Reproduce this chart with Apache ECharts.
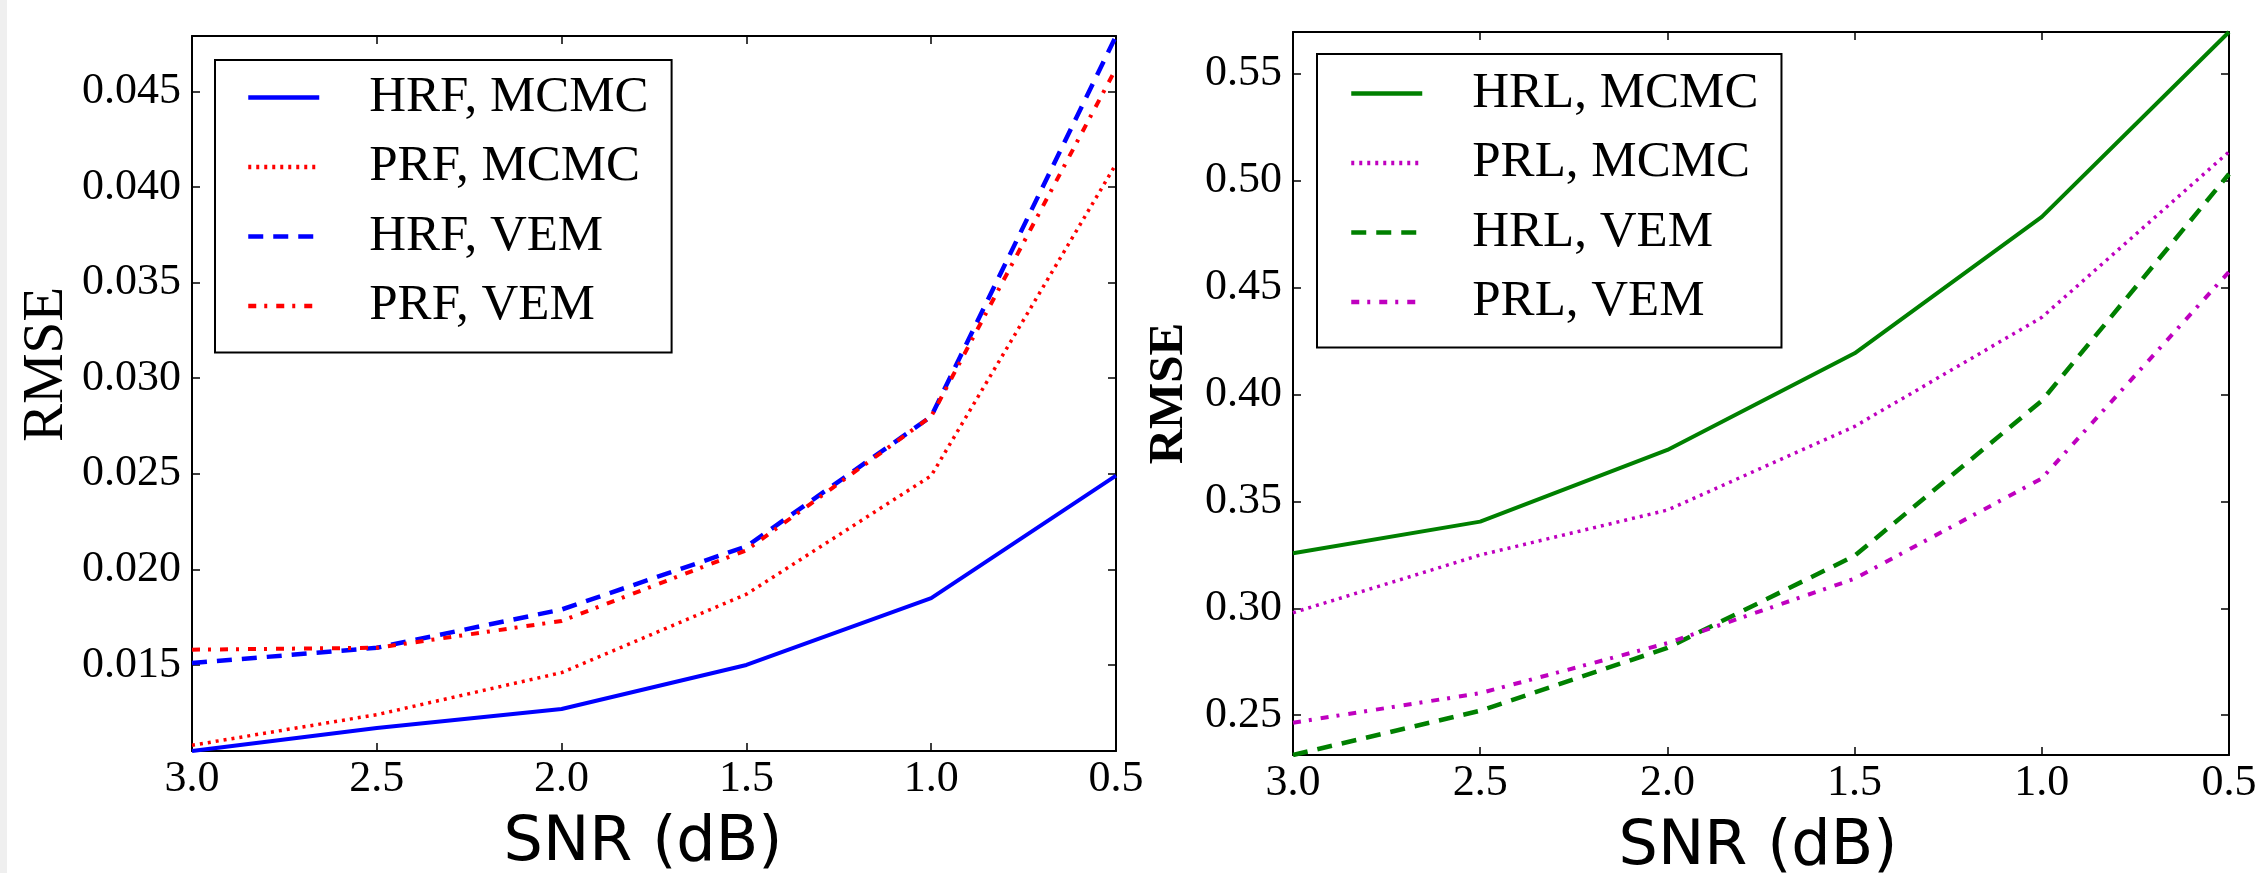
<!DOCTYPE html>
<html><head><meta charset="utf-8">
<script src="https://cdn.jsdelivr.net/npm/echarts@6/dist/echarts.min.js"></script>
<style>html,body{margin:0;padding:0;background:#fff}#c{width:2257px;height:873px}</style>
</head><body><div id="c"></div>
<script>
// ---- data ----
const snr = [3.0, 2.5, 2.0, 1.5, 1.0, 0.5];
const hrfMcmc = [0.0105, 0.0117, 0.0127, 0.0150, 0.0185, 0.0249];
const prfMcmc = [0.0108, 0.0124, 0.0146, 0.0187, 0.0249, 0.0412];
const hrfVem  = [0.0151, 0.0159, 0.0179, 0.0212, 0.0280, 0.0479];
const prfVem  = [0.0158, 0.0159, 0.0173, 0.0210, 0.0280, 0.0462];
const hrlMcmc = [0.3257, 0.3405, 0.3740, 0.4192, 0.4830, 0.5694];
const prlMcmc = [0.2979, 0.3249, 0.3459, 0.3850, 0.4360, 0.5134];
const hrlVem  = [0.2314, 0.2521, 0.2815, 0.3245, 0.3970, 0.5030];
const prlVem  = [0.2465, 0.2603, 0.2837, 0.3138, 0.3607, 0.4573];
const leftTicks  = [0.015, 0.020, 0.025, 0.030, 0.035, 0.040, 0.045];
const rightTicks = [0.25, 0.30, 0.35, 0.40, 0.45, 0.50, 0.55];
const leftNames  = ['HRF, MCMC', 'PRF, MCMC', 'HRF, VEM', 'PRF, VEM'];
const rightNames = ['HRL, MCMC', 'PRL, MCMC', 'HRL, VEM', 'PRL, VEM'];

const serif = "'Liberation Serif', 'DejaVu Serif', serif";
const axisLine = {show: true, onZero: false, lineStyle: {color: '#000', width: 2}};
const tickStyle = {color: '#000', width: 1.5};

function xAxes(g) {
  const base = {gridIndex: g, type: 'value', inverse: true, min: 0.5, max: 3.0, interval: 0.5,
    axisLine: axisLine, splitLine: {show: false}};
  return [
    Object.assign({}, base, {position: 'bottom',
      axisTick: {show: true, inside: true, length: 8, lineStyle: tickStyle},
      axisLabel: {show: true, color: '#000', fontFamily: serif, fontSize: 44, margin: 6,
        showMinLabel: true, showMaxLabel: true, formatter: v => v.toFixed(1)},
      name: 'SNR (dB)', nameLocation: 'middle', nameGap: 62,
      nameTextStyle: {fontFamily: "'DejaVu Sans'", fontSize: 62, color: '#000',
        padding: g === 0 ? [0, 22, 0, 0] : [0, 6, 0, 0]}}),
    Object.assign({}, base, {position: 'top',
      axisTick: {show: true, inside: true, length: 8, lineStyle: tickStyle},
      axisLabel: {show: false}})
  ];
}
function yAxes(g, min, max, ticks, digits, nameOpt) {
  const base = {gridIndex: g, type: 'value', min: min, max: max,
    axisLine: axisLine, splitLine: {show: false}};
  return [
    Object.assign({}, base, {position: 'left',
      axisTick: {show: true, inside: true, length: 8, lineStyle: tickStyle, customValues: ticks},
      axisLabel: {show: true, color: '#000', fontFamily: serif, fontSize: 44, margin: 11,
        customValues: ticks, formatter: v => v.toFixed(digits)}}, nameOpt),
    Object.assign({}, base, {position: 'right',
      axisTick: {show: true, inside: true, length: 8, lineStyle: tickStyle, customValues: ticks},
      axisLabel: {show: false}})
  ];
}
function ser(name, vals, xi, yi, color, type, width) {
  return {name: name, type: 'line', xAxisIndex: xi, yAxisIndex: yi, symbol: 'none',
    data: snr.map((x, i) => [x, vals[i]]),
    lineStyle: {color: color, type: type, width: width}, itemStyle: {color: color},
    z: 3, animation: false};
}
const dotted = [3, 5], dashed = [15, 10], dashdot = [8, 8, 3, 9];
const blue = '#0000ff', red = '#ff0000', green = '#008000', mag = '#bf00bf';

function legend(left, top, names, pad) {
  return {orient: 'vertical', left: left, top: top, data: names, selectedMode: false,
    backgroundColor: '#fff', borderColor: '#000', borderWidth: 2, borderRadius: 0,
    padding: pad, itemWidth: 71, itemHeight: 20, itemGap: 18.5,
    itemStyle: {opacity: 0},
    lineStyle: {width: 4.5},
    textStyle: {fontFamily: serif, fontSize: 51, lineHeight: 50, color: '#000', padding: [0, 0, 0, 45]}};
}

const option = {
  backgroundColor: '#fff',
  animation: false,
  graphic: [{type: 'rect', left: 0, top: 0, shape: {width: 7, height: 873}, style: {fill: '#efefef'}, silent: true}],
  grid: [
    {left: 192, right: 1141, top: 36, bottom: 122, containLabel: false, outerBoundsMode: 'none'},
    {left: 1293, right: 28, top: 32, bottom: 118, containLabel: false, outerBoundsMode: 'none'}
  ],
  xAxis: xAxes(0).concat(xAxes(1)),
  yAxis: yAxes(0, 0.0105, 0.0479, leftTicks, 3,
           {name: 'RMSE', nameLocation: 'middle', nameGap: 116,
            nameTextStyle: {fontFamily: serif, fontSize: 57, color: '#000', padding: [0, 0, 0, 58]}})
    .concat(yAxes(1, 0.2314, 0.5694, rightTicks, 2,
           {name: 'RMSE', nameLocation: 'middle', nameGap: 99,
            nameTextStyle: {fontFamily: serif, fontSize: 49, fontWeight: 'bold', color: '#000'}})),
  legend: [
    legend(215, 60, leftNames, [12, 23, 21, 31]),
    legend(1317, 54, rightNames, [14, 23, 20, 32])
  ],
  series: [
    ser(leftNames[0], hrfMcmc, 0, 0, blue, 'solid', 4),
    ser(leftNames[1], prfMcmc, 0, 0, red, dotted, 3.5),
    ser(leftNames[2], hrfVem, 0, 0, blue, dashed, 4.5),
    ser(leftNames[3], prfVem, 0, 0, red, dashdot, 4),
    ser(rightNames[0], hrlMcmc, 2, 2, green, 'solid', 4),
    ser(rightNames[1], prlMcmc, 2, 2, mag, dotted, 3.5),
    ser(rightNames[2], hrlVem, 2, 2, green, dashed, 4.5),
    ser(rightNames[3], prlVem, 2, 2, mag, dashdot, 4)
  ]
};
const chart = echarts.init(document.getElementById('c'), null, {renderer: 'canvas'});
chart.setOption(option);
</script>
</body></html>
